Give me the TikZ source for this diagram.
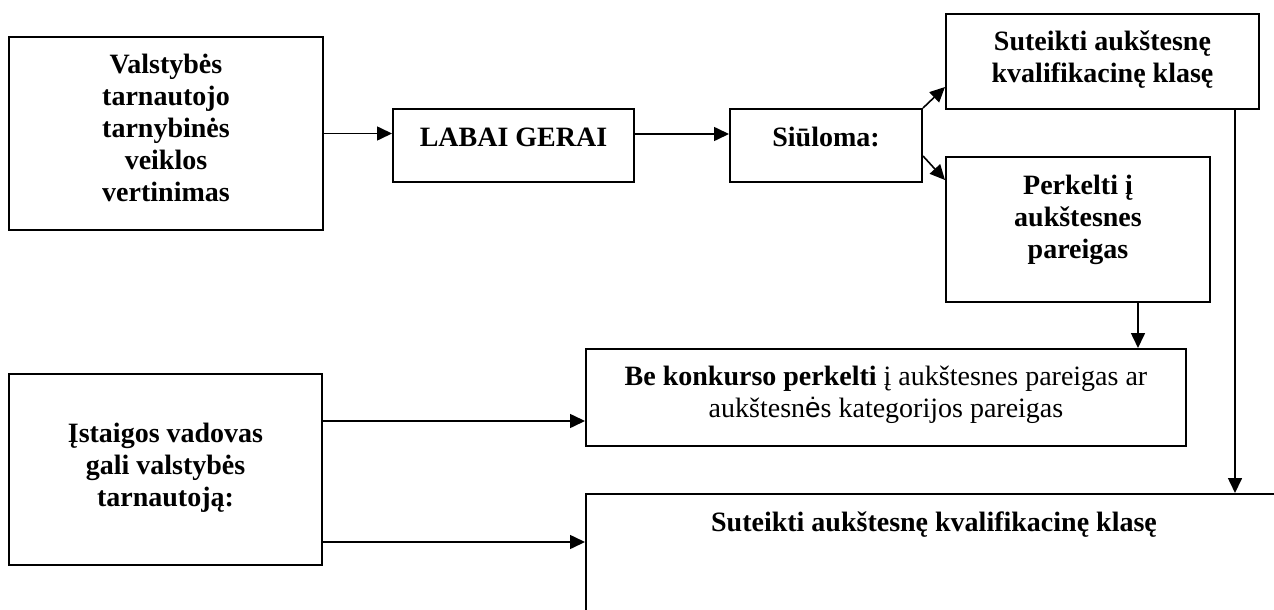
\documentclass[tikz,border=0pt]{standalone}
\usepackage{fontspec}
\setmainfont{Liberation Serif}
\newfontfamily\arialf{Liberation Sans}
\usetikzlibrary{arrows.meta,calc}
\newcommand{\bxt}[2]{\raisebox{#1}[\height][\depth]{\begin{tabular}{@{}c@{}}#2\end{tabular}}}
\begin{document}
\begin{tikzpicture}[x=0.5pt,y=-0.5pt,
  box/.style={draw, line width=1pt, inner sep=0pt, anchor=north west,
    font=\fontsize{14}{16}\selectfont\bfseries},
  arr/.style={line width=0.8pt, -{Triangle[length=7.5pt,width=7pt]}}]
\useasboundingbox (0,0) rectangle (1274,610);
\fill[white] (0,0) rectangle (1274,610);
\clip (0,0) rectangle (1274,610);

\node[box, minimum width=157pt, minimum height=96.5pt] (v) at (8,36)
  {\bxt{1pt}{Valstybės\\tarnautojo\\tarnybinės\\veiklos\\vertinimas}};
\node[box, minimum width=120.5pt, minimum height=36.5pt] (lab) at (392,108)
  {\bxt{2.5pt}{LABAI GERAI}};
\node[box, minimum width=96pt, minimum height=36.5pt] (siul) at (729,108)
  {\bxt{2.5pt}{Siūloma:}};
\node[box, minimum width=156.5pt, minimum height=47.5pt] (top) at (945,13)
  {\bxt{0.8pt}{Suteikti aukštesnę\\kvalifikacinę klasę}};
\node[box, minimum width=132pt, minimum height=72.5pt] (perk) at (945,156)
  {\bxt{4.8pt}{Perkelti į\\aukštesnes\\pareigas}};
\node[box, minimum width=300pt, minimum height=48.5pt, font=\fontsize{14}{16}\selectfont] (bek) at (585,348)
  {\bxt{1pt}{{\bfseries Be konkurso perkelti} į aukštesnes pareigas ar\\aukštesn{\arialf ė}s kategorijos pareigas}};
\node[box, minimum width=156.5pt, minimum height=95.5pt] (ist) at (8,373)
  {\bxt{0.5pt}{Įstaigos vadovas\\gali valstybės\\tarnautoją:}};
\node[box, minimum width=348pt, minimum height=70pt] (bot) at (585,493)
  {\bxt{19.7pt}{Suteikti aukštesnę kvalifikacinę klasę}};

\draw[arr] (v.east) -- (v.east -| lab.west);
\draw[arr] ([yshift=5.75pt]lab.east) -- ([yshift=5.75pt]siul.west);
\draw[arr] (siul.north east) -- ([yshift=11.5pt]top.south west);
\draw[arr] ([yshift=-5.25pt]siul.east) -- ([yshift=-12pt]perk.north west);
\coordinate (vt) at ([xshift=-12.5pt]top.south east);
\draw[arr] (vt) -- (vt |- bot.north);
\coordinate (pk) at ([xshift=30pt]perk.south);
\draw[arr] (pk) -- (pk |- bek.north);
\coordinate (i1) at ([yshift=24.25pt]ist.east);
\draw[arr] (i1) -- (i1 -| bek.west);
\coordinate (i2) at ([yshift=-36.25pt]ist.east);
\draw[arr] (i2) -- (i2 -| bot.west);
\end{tikzpicture}
\end{document}
